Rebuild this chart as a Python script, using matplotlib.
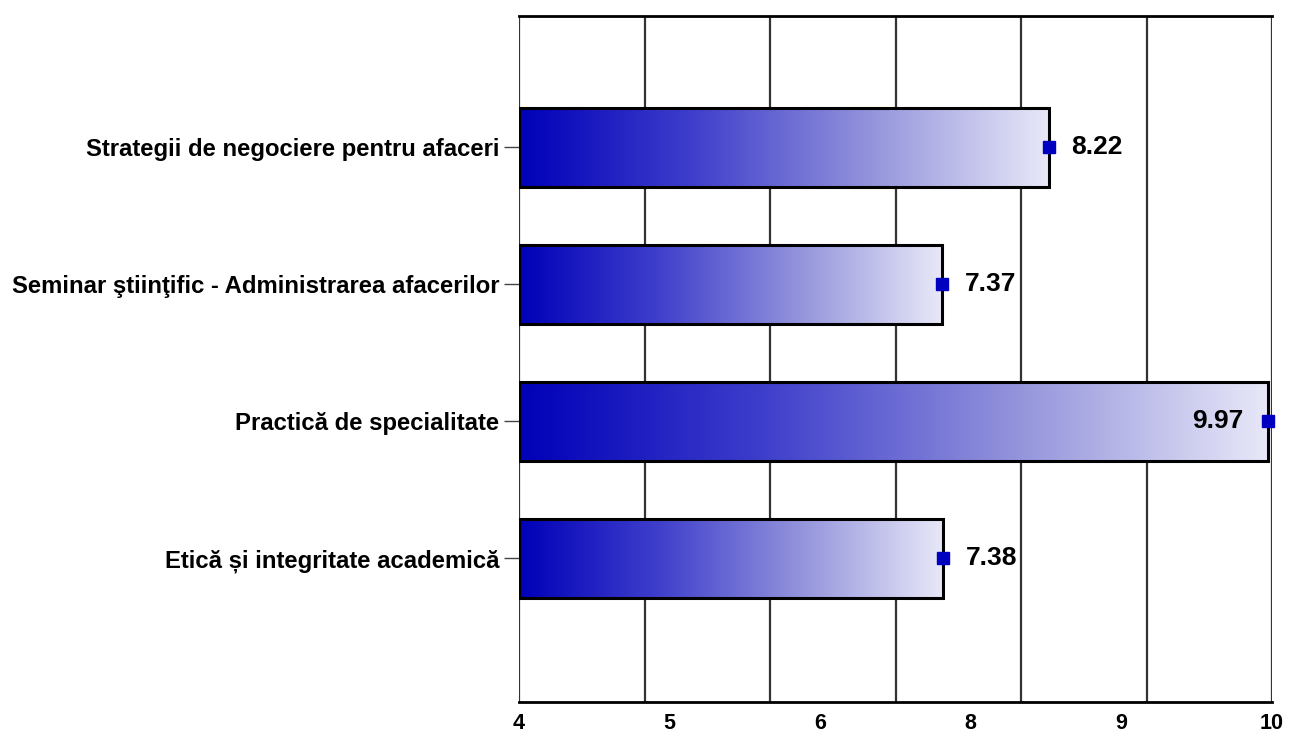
import numpy as np
import matplotlib.pyplot as plt
from matplotlib.colors import LinearSegmentedColormap

# data
categories = ['Etică și integritate academică',
              'Practică de specialitate',
              'Seminar ştiinţific - Administrarea afacerilor',
              'Strategii de negociere pentru afaceri']
values = [7.38, 9.97, 7.37, 8.22]
xtick_labels = ['4', '5', '6', '8', '9', '10']

plt.rcParams['font.family'] = ['Liberation Sans', 'DejaVu Sans']

fig = plt.figure(figsize=(13.02, 7.42), dpi=100)
ax = fig.add_axes([519/1302, 1 - 702/742, (1272-519)/1302, (702-16)/742])

x0 = 4
ypos = np.arange(len(categories))
h = 0.58
cmap = LinearSegmentedColormap.from_list('barfade', ['#0000b8', '#4040cc', '#9494dc', '#e8e8f8'])
grad = np.linspace(0, 1, 256).reshape(1, -1)

# vertical grid at every integer
for gx in range(4, 11):
    ax.axvline(gx, color='#333333', lw=1.6, zorder=1)

for y, v in zip(ypos, values):
    ax.imshow(grad, cmap=cmap, aspect='auto', extent=[x0, v, y - h/2, y + h/2],
              zorder=2, interpolation='bicubic')
    ax.barh(y, v - x0, left=x0, height=h, facecolor='none', edgecolor='black', lw=2.2, zorder=3)
    ax.plot(v, y, marker='s', color='#0000c0', ms=8.5, zorder=5, clip_on=False)
    if v > 9.5:
        ax.text(v - 0.2, y, f'{v:.2f}', ha='right', va='center', fontsize=19,
                fontweight='bold', zorder=6)
    else:
        ax.text(v + 0.18, y, f'{v:.2f}', ha='left', va='center', fontsize=19,
                fontweight='bold', zorder=6)

ax.set_xlim(4, 10)
ax.set_ylim(-1.05, 3.96)

ax.set_yticks(ypos)
ax.set_yticklabels(categories, fontsize=17.2, fontweight='bold')
ax.tick_params(axis='y', length=11, width=1, color='#444444', pad=3)

# the odd label positions of the original axis
ax.set_xticks(np.linspace(4, 10, len(xtick_labels)))
ax.set_xticklabels(xtick_labels, fontsize=15.5, fontweight='bold')
ax.tick_params(axis='x', length=0, pad=8)

for side in ['left', 'right']:
    ax.spines[side].set_visible(False)
ax.spines['top'].set_linewidth(2)
ax.spines['bottom'].set_linewidth(2)

fig.savefig('out.png', dpi=100)
